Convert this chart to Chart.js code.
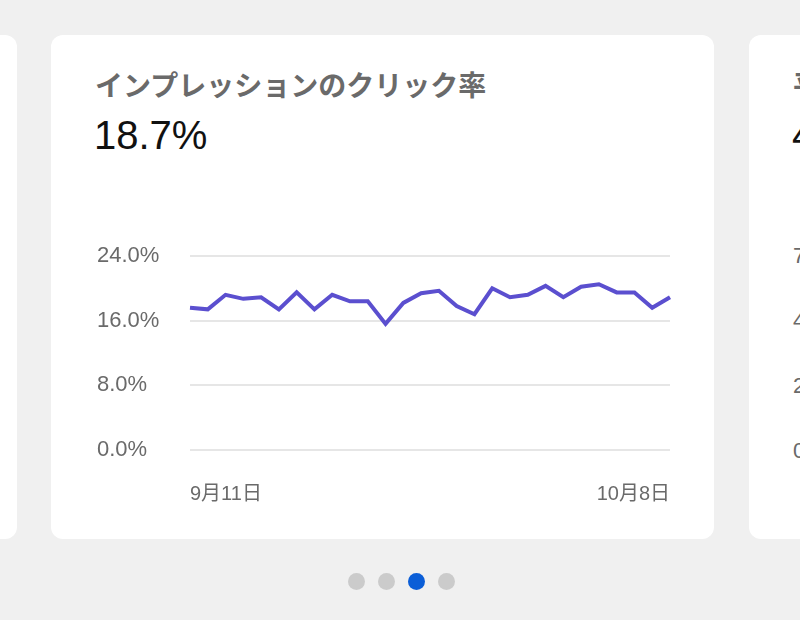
<!DOCTYPE html>
<html lang="ja">
<head>
<meta charset="utf-8">
<title>インプレッションのクリック率</title>
<script src="https://cdn.jsdelivr.net/npm/chart.js@4.4.1/dist/chart.umd.min.js"></script>
<style>
  html, body {
    margin: 0;
    padding: 0;
    width: 800px;
    height: 620px;
    overflow: hidden;
    background: #f0f0f0;
    font-family: "Liberation Sans", "Noto Sans CJK JP", sans-serif;
  }
  .card {
    position: absolute;
    top: 35px;
    height: 504px;
    background: #fff;
    border-radius: 12px;
  }
  .title {
    position: absolute;
    font-size: 28px;
    line-height: 32px;
    font-weight: bold;
    color: #6a6a6a;
    white-space: nowrap;
  }
  .value {
    position: absolute;
    font-size: 40px;
    line-height: 44px;
    color: #111;
    white-space: nowrap;
  }
  .tick {
    position: absolute;
    font-size: 22px;
    line-height: 24px;
    color: #6a6a6a;
  }
  .dots span {
    position: absolute;
    top: 573px;
    width: 17px;
    height: 17px;
    border-radius: 50%;
    background: #cbcbcb;
  }
  .dots span.on { background: #0b5ed7; }
  #ctrChart { position: absolute; left: 97px; top: 230px; }
</style>
</head>
<body>
  <div class="card" style="left:-200px;width:217px;"></div>

  <div class="card" style="left:51px;width:663px;"></div>
  <div class="title" style="left:95px;top:71px;">インプレッションのクリック率</div>
  <div class="value" style="left:94px;top:113px;">18.7%</div>
  <canvas id="ctrChart" width="593" height="290"></canvas>

  <div class="card" style="left:749px;width:663px;"></div>
  <div class="title" style="left:793px;top:71px;">平均掲載順位</div>
  <div class="value" style="left:792px;top:113px;">4.2</div>
  <div class="tick" style="left:793px;top:244px;">72</div>
  <div class="tick" style="left:793px;top:309px;">48</div>
  <div class="tick" style="left:793px;top:374px;">24</div>
  <div class="tick" style="left:793px;top:439px;">0</div>

  <div class="dots">
    <span style="left:348px;"></span>
    <span style="left:378px;"></span>
    <span class="on" style="left:408px;"></span>
    <span style="left:438px;"></span>
  </div>

<script>
const dates = [
  "9月11日", "9月12日", "9月13日", "9月14日", "9月15日", "9月16日", "9月17日",
  "9月18日", "9月19日", "9月20日", "9月21日", "9月22日", "9月23日", "9月24日",
  "9月25日", "9月26日", "9月27日", "9月28日", "9月29日", "9月30日", "10月1日",
  "10月2日", "10月3日", "10月4日", "10月5日", "10月6日", "10月7日", "10月8日"
];
const ctrValues = [
  17.6, 17.4, 19.2, 18.7, 18.9, 17.4, 19.5,
  17.4, 19.2, 18.4, 18.4, 15.6, 18.2, 19.4,
  19.7, 17.8, 16.8, 20.0, 18.9, 19.2, 20.3,
  18.9, 20.2, 20.5, 19.5, 19.5, 17.6, 18.9
];
const yTicks = [0, 8, 16, 24];

const ctx = document.getElementById("ctrChart").getContext("2d");
const ctrChart = new Chart(ctx, {
  type: "line",
  data: {
    labels: dates,
    datasets: [
      {
        data: ctrValues,
        borderColor: "#5b4fcf",
        borderWidth: 4,
        pointRadius: 0,
        tension: 0,
        fill: false
      }
    ]
  },
  options: {
    responsive: false,
    animation: false,
    events: [],
    layout: {
      padding: { top: 26, right: 20, left: 0, bottom: 0 }
    },
    plugins: {
      legend: { display: false },
      tooltip: { enabled: false }
    },
    scales: {
      x: {
        grid: { display: false },
        border: { display: false },
        ticks: {
          autoSkip: false,
          maxRotation: 0,
          align: "inner",
          padding: 24,
          color: "#6a6a6a",
          font: { size: 20, family: "'Liberation Sans', 'Noto Sans CJK JP'" },
          callback: function(value, index) {
            return (index === 0 || index === dates.length - 1) ? dates[index] : "";
          }
        },
        afterFit: function(scale) {
          scale.height = 70;
          scale.paddingLeft = 0;
          scale.paddingRight = 0;
        }
      },
      y: {
        min: yTicks[0],
        max: yTicks[yTicks.length - 1],
        border: { display: false },
        grid: {
          color: "#e6e6e6",
          lineWidth: 2,
          drawTicks: false
        },
        ticks: {
          stepSize: yTicks[1] - yTicks[0],
          crossAlign: "far",
          color: "#6a6a6a",
          font: { size: 22, family: "'Liberation Sans', 'Noto Sans CJK JP'" },
          callback: function(value) { return value.toFixed(1) + "%"; }
        },
        afterFit: function(scale) { scale.width = 93; }
      }
    }
  }
});
</script>
</body>
</html>
